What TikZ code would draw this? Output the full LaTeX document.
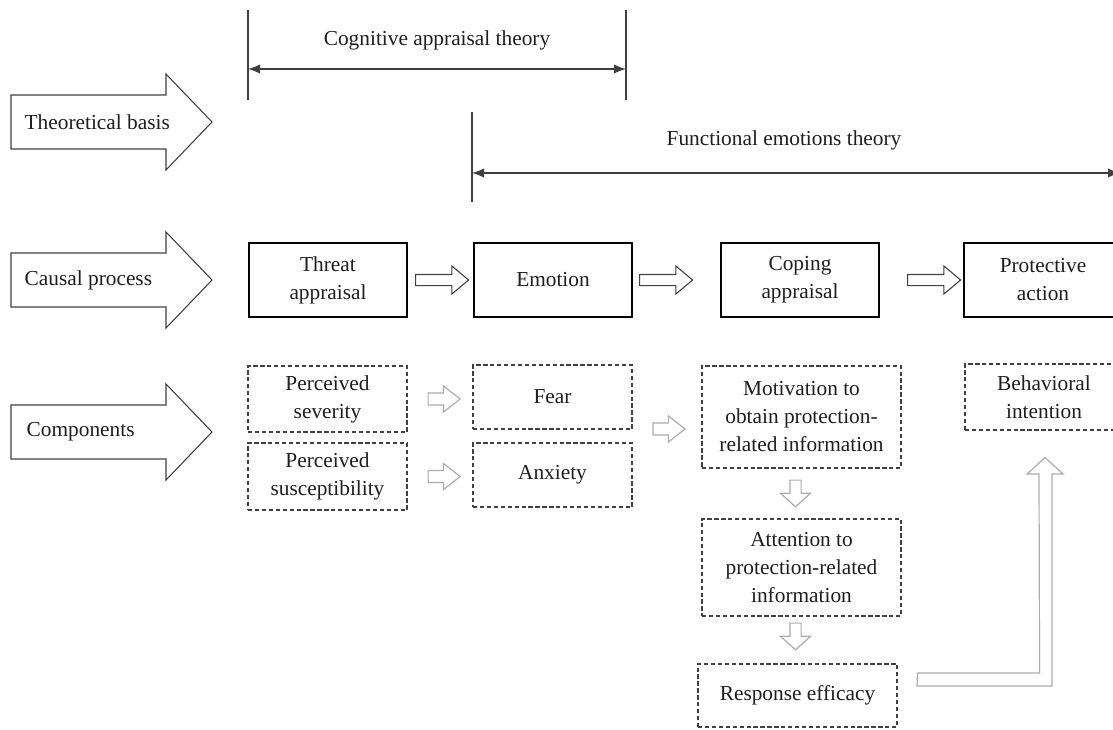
\documentclass[tikz,border=0pt]{standalone}
\usepackage{fontspec}
\setmainfont{Liberation Serif}
\usetikzlibrary{shapes.arrows,arrows.meta,calc}
\definecolor{txt}{HTML}{1E1E1E}
\definecolor{lgray}{HTML}{ADADAD}
\definecolor{dgray}{HTML}{404040}
\newcommand{\bigarrowat}[1]{%
  \draw[bigarrow] (11,{#1-27}) -- (166,{#1-27}) -- (166,{#1-48}) -- (212,#1) -- (166,{#1+48}) -- (166,{#1+27}) -- (11,{#1+27}) -- cycle;}
\begin{document}
\begin{tikzpicture}[x=0.75pt,y=-0.75pt,
  font=\fontsize{16pt}{21pt}\selectfont, text=txt,
  causal/.style={draw=black, line width=1.6pt, minimum width=118.5pt, minimum height=55.5pt, align=center, inner sep=0pt},
  comp/.style={draw=dgray, line width=0.8pt, dash pattern=on 3.2pt off 2pt, align=center, inner sep=0pt},
  bigarrow/.style={draw=dgray, line width=0.8pt, fill=white},
  dimline/.style={draw=dgray, line width=0.9pt},
  dimtip/.style={{Latex[length=9pt,width=7pt]}-{Latex[length=9pt,width=7pt]}},
  smallarr/.style={single arrow, draw=dgray, line width=0.8pt, fill=white, anchor=tail,
    text height=0pt, text depth=0pt, text width=0pt, inner xsep=0pt, inner ysep=3.75pt,
    single arrow head extend=6.4pt, single arrow tip angle=80, minimum height=39.75pt},
  grayarr/.style={single arrow, draw=lgray, line width=0.9pt, fill=white, anchor=tail,
    text height=0pt, text depth=0pt, text width=0pt, inner xsep=0pt, inner ysep=4.1pt,
    single arrow head extend=5.25pt, single arrow tip angle=76, minimum height=24pt},
  downarr/.style={single arrow, shape border rotate=270, draw=lgray, line width=0.9pt, fill=white, anchor=tail,
    text height=0pt, text depth=0pt, text width=0pt, inner xsep=3.75pt, inner ysep=0pt,
    single arrow head extend=7.1pt, single arrow tip angle=96, minimum height=20pt}
]
\clip (0,0) rectangle (1113,729);
\fill[white] (0,0) rectangle (1113,729);

% left labels
\bigarrowat{122}
\bigarrowat{280}
\bigarrowat{432}
\node[anchor=west] (tb) at (20,122) {Theoretical basis};
\node[anchor=west] (cp) at (20,280) {Causal process};
\node[anchor=west] (cm) at (22,432) {Components};

% theory brackets
\coordinate (c1t) at (248,10); \coordinate (c1b) at (248,100);
\coordinate (c2t) at (626,10); \coordinate (c2b) at (626,100);
\coordinate (c1m) at (248,69); \coordinate (c2m) at (626,69);
\draw[dimline] (c1t) -- (c1b);
\draw[dimline] (c2t) -- (c2b);
\draw[dimline, dimtip] (c1m) -- (c2m);
\node (cat) at (437,40) {Cognitive appraisal theory};

\coordinate (f1t) at (472,112); \coordinate (f1b) at (472,202);
\coordinate (f1m) at (472,173); \coordinate (f2m) at (1120,173);
\draw[dimline] (f1t) -- (f1b);
\draw[dimline, dimtip] (f1m) -- (f2m);
\node (fet) at (784,140) {Functional emotions theory};

% causal process
\node[causal] (threat) at (328,280) {Threat\\appraisal};
\node[causal] (emotion) at (553,280) {Emotion};
\node[causal] (coping) at (800,280) {Coping\\appraisal};
\node[causal] (protect) at (1043,280) {Protective\\action};

\node[smallarr] (a1) at ($(threat.east)+(7,0)$) {};
\node[smallarr] (a2) at ($(emotion.east)+(6,0)$) {};
\node[smallarr] (a3) at ($(coping.east)+(27,0)$) {};

% components
\node[comp, minimum width=119.25pt, minimum height=49.5pt] (sev) at (327.5,399) {Perceived\\severity};
\node[comp, minimum width=119.25pt, minimum height=50.25pt] (sus) at (327.5,476.5) {Perceived\\susceptibility};
\node[comp, minimum width=119.25pt, minimum height=48pt] (fear) at (552.5,397) {Fear};
\node[comp, minimum width=119.25pt, minimum height=48pt] (anx) at (552.5,475) {Anxiety};
\node[comp, minimum width=149.25pt, minimum height=76.5pt] (mot) at (801.5,417) {Motivation to\\obtain protection-\\related information};
\node[comp, minimum width=149.25pt, minimum height=72.75pt] (att) at (801.5,567.5) {Attention to\\protection-related\\information};
\node[comp, minimum width=149.25pt, minimum height=47.25pt] (resp) at (797.5,695.5) {Response efficacy};
\node[comp, minimum width=118.5pt, minimum height=49.5pt] (beh) at (1044,397) {Behavioral\\intention};

\node[grayarr] (g1) at ($(sev.east)+(20,0)$) {};
\node[grayarr] (g2) at ($(sus.east)+(20,0)$) {};
\node[grayarr] (g3) at ($(mot.west)+(-49,12)$) {};
\node[downarr] (d1) at ($(mot.south)+(-6,11)$) {};
\node[downarr] (d2) at ($(att.south)+(-6,6)$) {};

% elbow arrow from response efficacy to behavioral intention
\coordinate (e0) at ($(resp.east)+(20,-22.5)$);
\draw[draw=lgray, line width=0.9pt, fill=white]
  (e0) -- ++(122,0) -- (1039,474) -- (1027,474) -- ($(beh.south)+(1,27)$) -- (1063,474) -- (1052,474) -- (1052,686) -- (917,686) -- cycle;
\end{tikzpicture}
\end{document}
